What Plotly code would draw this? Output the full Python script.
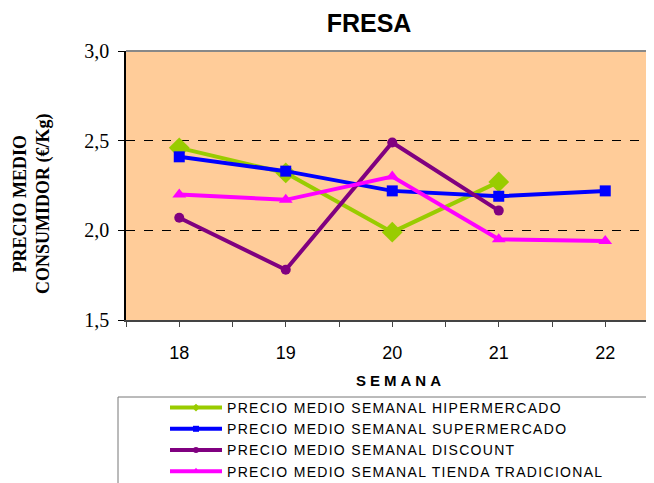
import plotly.graph_objects as go

semanas = [18, 19, 20, 21, 22]
hiper = [2.46, 2.32, 1.99, 2.27, None]
super_ = [2.41, 2.33, 2.22, 2.19, 2.22]
discount = [2.07, 1.78, 2.49, 2.11, None]
tradicional = [2.20, 2.17, 2.30, 1.95, 1.94]
y_ticks = [1.5, 2.0, 2.5, 3.0]

series = [
    ("PRECIO MEDIO SEMANAL HIPERMERCADO", hiper, "#99CC00", "diamond", 16, 6),
    ("PRECIO MEDIO SEMANAL SUPERMERCADO", super_, "#0000FF", "square", 11, 6),
    ("PRECIO MEDIO SEMANAL DISCOUNT", discount, "#800080", "circle", 10, 6),
    ("PRECIO MEDIO SEMANAL TIENDA TRADICIONAL", tradicional, "#FF00FF", "triangle-up", 12, 7),
]

fig = go.Figure()
for name, vals, col, sym, size, lsize in series:
    fig.add_trace(go.Scatter(
        x=semanas, y=vals, mode="lines+markers", name=name, showlegend=False,
        line=dict(color=col, width=4),
        marker=dict(symbol=sym, size=size, color=col),
        connectgaps=False,
    ))
for name, vals, col, sym, size, lsize in series:
    fig.add_trace(go.Scatter(
        x=[None], y=[None], mode="lines+markers",
        name='<span style="letter-spacing:1.3px">' + name + '</span>', showlegend=True,
        line=dict(color=col, width=4),
        marker=dict(symbol=sym, size=lsize, color=col),
    ))

# the page body adds an 8px margin; lay the figure out in page pixels
OFF = 8
W, H = 654 - OFF, 483 - OFF
L, T = 126 - OFF, 51 - OFF
R = 0
B = 483 - 320
pw, ph = W - L - R, H - T - B

def px_x(x):
    return (x - OFF - L) / pw

def px_y(y):
    return (H - B - (y - OFF)) / ph

fig.update_layout(
    width=W, height=H,
    margin=dict(l=L, r=R, t=T, b=B, autoexpand=False),
    paper_bgcolor="white",
    plot_bgcolor="#FFCC99",
    separators=",.",
    font=dict(family="Liberation Sans", color="black"),
    title=dict(text="<b>FRESA</b>", x=(369 - OFF) / W, xref="container",
               y=1 - (23 - OFF) / H, yref="container", xanchor="center", yanchor="middle",
               font=dict(size=25, family="Liberation Sans", color="black")),
    xaxis=dict(
        range=[17.5, 17.5 + pw / 106.5], tickmode="array", tickvals=semanas,
        ticktext=[str(s) for s in semanas],
        showgrid=False, zeroline=False,
        showline=True, linecolor="#444", linewidth=1.5,
        ticks="outside", ticklen=5, tickcolor="#444",
        ticklabelstandoff=11,
        tickfont=dict(size=18, family="Liberation Sans", color="black"),
        minor=dict(dtick=0.5, tick0=17.5, ticks="outside", ticklen=5, tickcolor="#444", showgrid=False),
    ),
    yaxis=dict(
        range=[1.5, 3.0], tickmode="array", tickvals=y_ticks, tickformat=".1f",
        showgrid=True, gridcolor="black", gridwidth=1, griddash="dash",
        zeroline=False, showline=True, linecolor="black", linewidth=1.5,
        ticks="outside", ticklen=6, tickcolor="black",
        ticklabelstandoff=5,
        tickfont=dict(size=20, family="Liberation Serif", color="black"),
    ),
    legend=dict(
        x=px_x(165), y=px_y(392), xanchor="left", yanchor="top",
        bgcolor="rgba(0,0,0,0)", borderwidth=0,
        font=dict(size=14, family="Liberation Sans", color="black"),
        itemwidth=52, tracegroupgap=0,
    ),
)

# top border of plot area (grey)
fig.add_shape(type="line", xref="paper", yref="paper", x0=0, x1=1, y0=1, y1=1,
              line=dict(color="#888888", width=2), layer="above")
# legend frame
fig.add_shape(type="rect", xref="paper", yref="paper",
              x0=px_x(118), x1=px_x(651), y0=px_y(397), y1=px_y(495),
              line=dict(color="#777777", width=1), fillcolor="rgba(0,0,0,0)")

fig.add_annotation(text='<b><span style="letter-spacing:4px">SEMANA</span></b>',
                   xref="paper", yref="paper", x=px_x(400), y=px_y(380),
                   showarrow=False, xanchor="center", yanchor="middle",
                   font=dict(size=15, family="Liberation Sans", color="black"))
fig.add_annotation(text="<b>PRECIO MEDIO<br>CONSUMIDOR (€/Kg)</b>",
                   xref="paper", yref="paper", x=px_x(32), y=px_y(204),
                   showarrow=False, textangle=-90, xanchor="center", yanchor="middle",
                   font=dict(size=18, family="Liberation Serif", color="black"))

fig.write_html("out.html")
